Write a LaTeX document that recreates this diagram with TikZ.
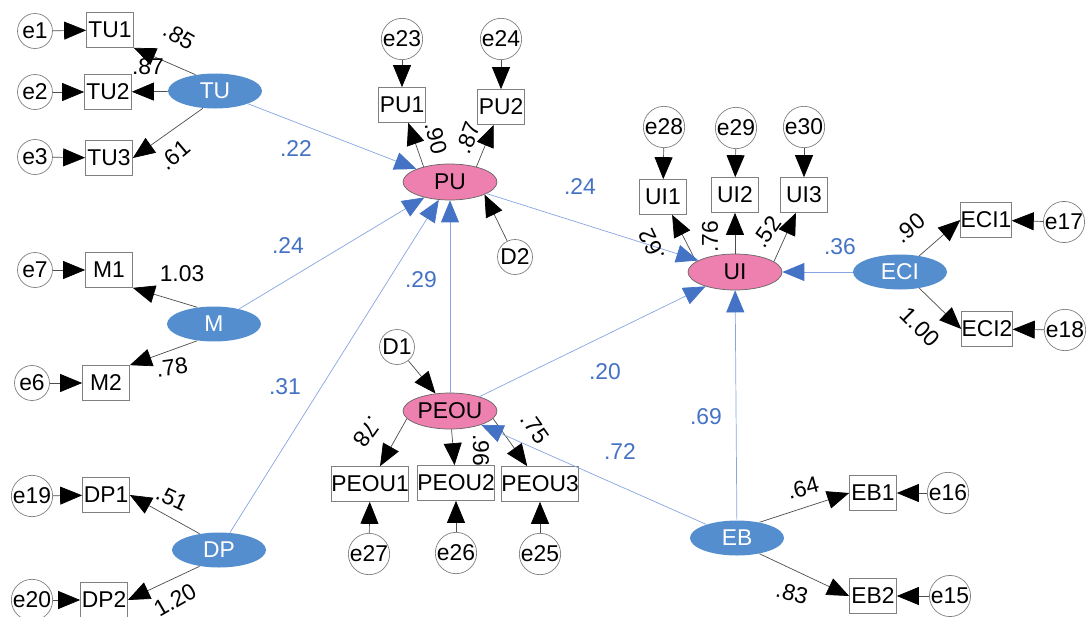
\documentclass[tikz,border=0pt]{standalone}
\usepackage{fontspec}
\setmainfont{Liberation Sans}
\usetikzlibrary{arrows.meta,shapes.geometric}
\definecolor{latblue}{RGB}{85,142,206}
\definecolor{latpink}{RGB}{238,128,176}
\definecolor{coefblue}{RGB}{68,114,196}
\definecolor{pathblue}{RGB}{135,165,225}
\tikzset{
  txt/.style={font=\fontsize{13}{15}\selectfont},
  obs/.style={txt, draw=black!50, minimum width=0.94cm, minimum height=0.7cm, inner sep=0pt},
  err/.style={txt, circle, draw=black!50, minimum size=0.7cm, inner sep=0pt},
  exo/.style={txt, ellipse, fill=latblue, text=white, minimum width=1.88cm, minimum height=0.7cm, inner sep=0pt},
  endo/.style={txt, ellipse, draw=black!60, fill=latpink, minimum width=1.88cm, minimum height=0.72cm, inner sep=0pt},
  load/.style={draw=black!70, line width=0.4pt, -{Triangle[length=0.44cm,width=0.36cm,color=black]}},
  reg/.style={draw=pathblue, line width=0.4pt, -{Triangle[length=0.44cm,width=0.36cm,color=coefblue]}},
  est/.style={txt, inner sep=0pt},
  coef/.style={txt, text=coefblue, inner sep=0pt}
}
\begin{document}
\begin{tikzpicture}[x=0.02cm, y=-0.02cm]
  \useasboundingbox (0,0) rectangle (1089,616);

  % TU block
  \node[err] (e1) at (35,31) {e1};
  \node[obs] (TU1) at (110,30) {TU1};
  \node[err] (e2) at (35,92) {e2};
  \node[obs] (TU2) at (108,92) {TU2};
  \node[err] (e3) at (35,157) {e3};
  \node[obs] (TU3) at (109,158) {TU3};
  \node[exo] (TU) at (215,91) {TU};

  % M block
  \node[err] (e7) at (35,270) {e7};
  \node[obs] (M1) at (109,270) {M1};
  \node[err] (e6) at (32,383) {e6};
  \node[obs] (M2) at (106,383) {M2};
  \node[exo] (M) at (214,324) {M};

  % DP block
  \node[err] (e19) at (32,496) {e19};
  \node[obs] (DP1) at (106,495) {DP1};
  \node[err] (e20) at (32,600) {e20};
  \node[obs] (DP2) at (104,600) {DP2};
  \node[exo] (DP) at (219,550) {DP};

  % PU block
  \node[err] (e23) at (402,39) {e23};
  \node[err] (e24) at (501,39) {e24};
  \node[obs] (PU1) at (402,105) {PU1};
  \node[obs] (PU2) at (501,107) {PU2};
  \node[endo] (PU) at (450,182) {PU};
  \node[err] (D2) at (515,257) {D2};

  % PEOU block
  \node[err] (D1) at (397,347) {D1};
  \node[endo] (PEOU) at (450,411) {PEOU};
  \node[obs] (PEOU1) at (370,484) {PEOU1};
  \node[obs] (PEOU2) at (456,483) {PEOU2};
  \node[obs] (PEOU3) at (540,484) {PEOU3};
  \node[err] (e27) at (369,554) {e27};
  \node[err] (e26) at (456,553) {e26};
  \node[err] (e25) at (540,554) {e25};

  % UI block
  \node[err] (e28) at (664,127) {e28};
  \node[err] (e29) at (736,128) {e29};
  \node[err] (e30) at (804,127) {e30};
  \node[obs] (UI1) at (663,197) {UI1};
  \node[obs] (UI2) at (735,195) {UI2};
  \node[obs] (UI3) at (804,195) {UI3};
  \node[endo] (UI) at (735,272) {UI};

  % ECI block
  \node[exo] (ECI) at (900,272) {ECI};
  \node[obs] (ECI1) at (986,220) {ECI1};
  \node[obs] (ECI2) at (987,329) {ECI2};
  \node[err] (e17) at (1064,222) {e17};
  \node[err] (e18) at (1065,330) {e18};

  % EB block
  \node[exo] (EB) at (737,538) {EB};
  \node[obs] (EB1) at (873,493) {EB1};
  \node[obs] (EB2) at (873,596) {EB2};
  \node[err] (e16) at (948,493) {e16};
  \node[err] (e15) at (950,596) {e15};

  % error terms
  \foreach \a/\b in {e1/TU1, e2/TU2, e3/TU3, e7/M1, e6/M2, e19/DP1, e20/DP2,
      e23/PU1, e24/PU2, D1/PEOU, e27/PEOU1, e26/PEOU2, e25/PEOU3,
      e28/UI1, e29/UI2, e30/UI3, e17/ECI1, e18/ECI2, e16/EB1, e15/EB2}
    \draw[load] (\a) -- (\b);
  \draw[load] (D2) -- (PU.-20);

  % loadings
  \foreach \a/\b in {TU.140/TU1.south east, TU/TU2, TU.235/TU3.east,
      M.135/M1.south east, M.225/M2.north east, DP.140/DP1.east, DP.220/DP2.east,
      PU.150/PU1, PU.30/PU2, PEOU.190/PEOU1, PEOU/PEOU2, PEOU.-10/PEOU3,
      UI.165/UI1, UI/UI2, UI.15/UI3, ECI.40/ECI1.west, ECI.-40/ECI2.west,
      EB.35/EB1.west, EB.-35/EB2.west}
    \draw[load] (\a) -- (\b);

  % structural paths
  \foreach \a/\b in {TU/PU, M/PU, DP/PU, PEOU/PU, PU/UI, PEOU/UI, ECI/UI, EB/UI, EB/PEOU}
    \draw[reg] (\a) -- (\b);

  % loading estimates
  \foreach \x/\y/\r/\t [count=\i] in {179/36/-30/.85, 148/67/0/.87, 175/155/40/.61,
      182/274/0/1.03, 172/367/8/.78, 172/498/-25/.51, 175/600/30/1.20,
      436/138/-75/.90, 468/138/70/.87, 368/432/-126/.78, 481/450/-90/.96, 535/428/-55/.75,
      652/245/115/.62, 710/237/90/.76, 767/232/55/.52,
      910/228/40/.90, 920/327/-45/1.00, 803/488/15/.64, 792/593/-15/.83}
    \node[est, rotate=\r] (k\i) at (\x,\y) {\t};

  % path estimates
  \foreach \x/\y/\t [count=\i] in {296/149/.22, 288/246/.24, 285/387/.31, 421/280/.29,
      580/187/.24, 605/372/.20, 620/452/.72, 706/417/.69, 840/247/.36}
    \node[coef] (c\i) at (\x,\y) {\t};
\end{tikzpicture}
\end{document}
